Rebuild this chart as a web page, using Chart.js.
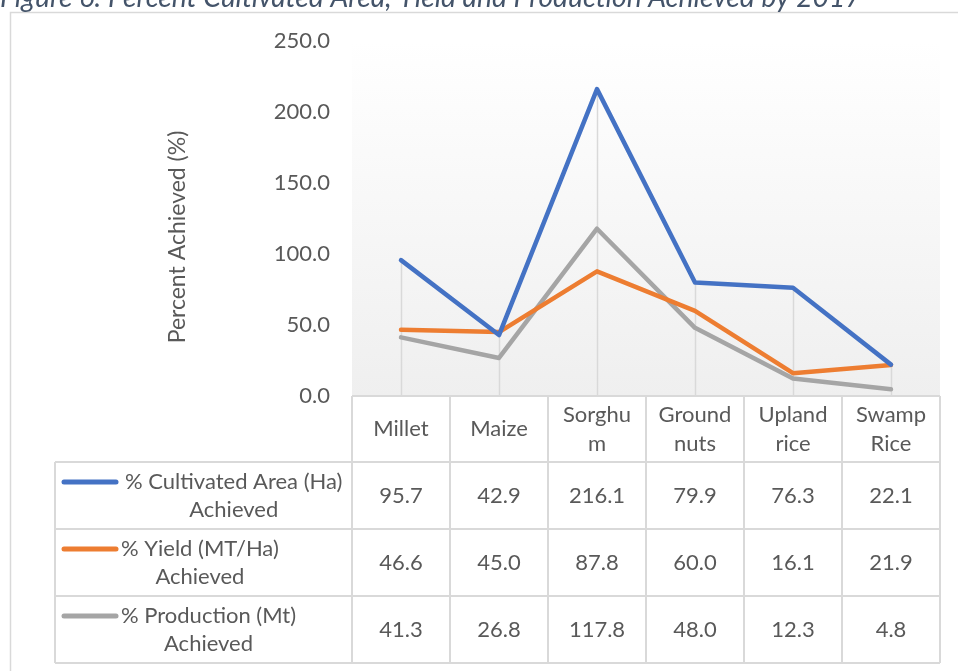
<!DOCTYPE html>
<html>
<head>
<meta charset="utf-8">
<script src="https://cdn.jsdelivr.net/npm/chart.js@4.4.0/dist/chart.umd.min.js"></script>
<style>
  body { margin: 0; background: #ffffff; }
  #wrap { width: 958px; height: 671px; position: relative; overflow: hidden; }
</style>
</head>
<body>
<div id="wrap"><canvas id="myChart" width="958" height="671"></canvas></div>
<script>
// crops along the x axis
const crops = ["Millet", "Maize", "Sorghum", "Ground nuts", "Upland rice", "Swamp Rice"]
// how the crop names wrap in the table header
const cropLines = [["Millet"], ["Maize"], ["Sorghu", "m"], ["Ground", "nuts"], ["Upland", "rice"], ["Swamp", "Rice"]]

// percent achieved per crop
const areaAchieved = [95.7, 42.9, 216.1, 79.9, 76.3, 22.1]
const yieldAchieved = [46.6, 45.0, 87.8, 60.0, 16.1, 21.9]
const productionAchieved = [41.3, 26.8, 117.8, 48.0, 12.3, 4.8]

// series names, as they wrap in the table
const areaName = ["% Cultivated Area (Ha)", "Achieved"]
const yieldName = ["% Yield (MT/Ha)", "Achieved"]
const productionName = ["% Production (Mt)", "Achieved"]

const yMin = 0
const yMax = 250
const yStep = 50

const chartTitle = "Figure 6: Percent Cultivated Area, Yield and Production Achieved by 2017"
const yTitle = "Percent Achieved (%)"

const FONT = "Lato, 'Open Sans', sans-serif"
const TEXT = "#595959"
const RULE = "#d9d9d9"
const SIZE = 22

// everything that is not the lines: frame, title, drop lines, data table
const tablePlugin = {
  id: "tablePlugin",
  beforeDraw(chart) {
    const ctx = chart.ctx
    const area = chart.chartArea
    ctx.save()
    // outer frame of the chart object
    ctx.strokeStyle = RULE
    ctx.lineWidth = 1.5
    ctx.strokeRect(10.5, 12.5, 1000, 700)

    // figure caption, cut off by the top edge
    ctx.fillStyle = "#44546a"
    let size = 22
    ctx.font = "italic " + size + "px " + FONT
    size = size * 862 / ctx.measureText(chartTitle).width
    ctx.font = "italic " + size + "px " + FONT
    ctx.textAlign = "left"
    ctx.textBaseline = "alphabetic"
    ctx.fillText(chartTitle, 0, 7)

    // plot area fill, white to light grey
    const grad = ctx.createLinearGradient(0, area.top, 0, area.bottom)
    grad.addColorStop(0, "#ffffff")
    grad.addColorStop(1, "#efefef")
    ctx.fillStyle = grad
    ctx.fillRect(area.left, area.top, area.right - area.left, area.bottom - area.top)

    // y axis title
    ctx.translate(178, 237)
    ctx.rotate(-Math.PI / 2)
    ctx.fillStyle = TEXT
    ctx.font = "23px " + FONT
    ctx.textAlign = "center"
    ctx.textBaseline = "middle"
    ctx.fillText(yTitle, 0, 0)
    ctx.restore()
  },
  beforeDatasetsDraw(chart) {
    // drop lines from the highest point down to the axis
    const ctx = chart.ctx
    const x = chart.scales.x
    const y = chart.scales.y
    ctx.save()
    ctx.strokeStyle = RULE
    ctx.lineWidth = 1.5
    for (let i = 0; i < crops.length; i++) {
      const top = Math.max(areaAchieved[i], yieldAchieved[i], productionAchieved[i])
      const px = Math.round(x.getPixelForValue(i)) + 0.5
      ctx.beginPath()
      ctx.moveTo(px, y.getPixelForValue(top))
      ctx.lineTo(px, y.getPixelForValue(0))
      ctx.stroke()
    }
    ctx.restore()
  },
  afterDraw(chart) {
    const ctx = chart.ctx
    const x = chart.scales.x
    const area = chart.chartArea
    const half = (x.getPixelForValue(1) - x.getPixelForValue(0)) / 2
    const left = x.getPixelForValue(0) - half
    const right = x.getPixelForValue(crops.length - 1) + half
    const legendLeft = 55
    const headTop = area.bottom
    const headH = 66
    const rowH = 67
    const rows = [
      { name: areaName, values: areaAchieved, color: "#4472c4" },
      { name: yieldName, values: yieldAchieved, color: "#ed7d31" },
      { name: productionName, values: productionAchieved, color: "#a5a5a5" }
    ]
    const bottom = headTop + headH + rows.length * rowH

    ctx.save()
    // table rules
    ctx.strokeStyle = RULE
    ctx.lineWidth = 2
    ctx.beginPath()
    ctx.moveTo(left, headTop)
    ctx.lineTo(right, headTop)
    for (let r = 0; r <= rows.length; r++) {
      const ry = headTop + headH + r * rowH
      ctx.moveTo(legendLeft, ry)
      ctx.lineTo(right, ry)
    }
    ctx.moveTo(legendLeft, headTop + headH)
    ctx.lineTo(legendLeft, bottom)
    for (let i = 0; i <= crops.length; i++) {
      const cx = left + i * half * 2
      ctx.moveTo(cx, headTop)
      ctx.lineTo(cx, bottom)
    }
    ctx.stroke()

    ctx.fillStyle = TEXT
    ctx.font = SIZE + "px " + FONT
    ctx.textAlign = "center"
    ctx.textBaseline = "middle"
    const lineH = 29

    // header: crop names
    for (let i = 0; i < crops.length; i++) {
      const lines = cropLines[i]
      const cx = x.getPixelForValue(i)
      const cy = headTop + headH / 2 - (lines.length - 1) * lineH / 2
      for (let k = 0; k < lines.length; k++) {
        ctx.fillText(lines[k], cx, cy + k * lineH)
      }
    }

    // body rows: legend key, series name, values
    for (let r = 0; r < rows.length; r++) {
      const row = rows[r]
      const rowMid = headTop + headH + r * rowH + rowH / 2
      const y0 = rowMid - lineH / 2 + 1
      const textLeft = r === 0 ? 125 : 121
      const textMid = textLeft + ctx.measureText(row.name[0]).width / 2
      ctx.strokeStyle = row.color
      ctx.lineWidth = 5
      ctx.lineCap = "round"
      ctx.beginPath()
      ctx.moveTo(64, y0)
      ctx.lineTo(116, y0)
      ctx.stroke()
      ctx.fillText(row.name[0], textMid, y0)
      ctx.fillText(row.name[1], textMid, y0 + lineH - 1)
      for (let i = 0; i < crops.length; i++) {
        ctx.fillText(row.values[i].toFixed(1), x.getPixelForValue(i), rowMid)
      }
    }
    ctx.restore()
  }
}

function updateChart() {
  const ctx = document.getElementById("myChart").getContext("2d")
  const chart = new Chart(ctx, {
    type: "line",
    data: {
      labels: crops,
      datasets: [
        { label: areaName.join(" "), data: areaAchieved, borderColor: "#4472c4", backgroundColor: "#4472c4" },
        { label: yieldName.join(" "), data: yieldAchieved, borderColor: "#ed7d31", backgroundColor: "#ed7d31" },
        { label: productionName.join(" "), data: productionAchieved, borderColor: "#a5a5a5", backgroundColor: "#a5a5a5" }
      ]
    },
    options: {
      responsive: false,
      animation: false,
      layout: { padding: { left: 0, top: 41, right: 18, bottom: 275 } },
      elements: {
        line: { borderWidth: 4.5, tension: 0, borderCapStyle: "round", borderJoinStyle: "round" },
        point: { radius: 0, hoverRadius: 0 }
      },
      plugins: {
        legend: { display: false },
        tooltip: { enabled: false }
      },
      scales: {
        x: { type: "category", display: false, offset: true },
        y: {
          min: yMin,
          max: yMax,
          grid: { display: false, drawTicks: false },
          border: { display: false },
          afterFit(scale) { scale.width = 352 },
          ticks: {
            stepSize: yStep,
            padding: 22,
            color: TEXT,
            font: { family: FONT, size: SIZE },
            callback: function (v) { return Number(v).toFixed(1) }
          }
        }
      }
    },
    plugins: [tablePlugin]
  })
}

updateChart()
</script>
</body>
</html>
